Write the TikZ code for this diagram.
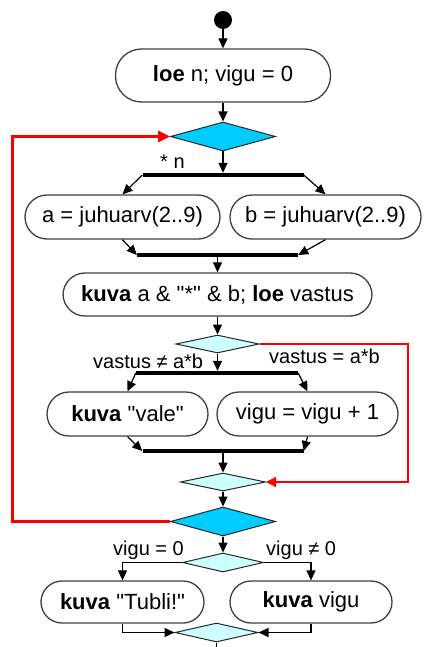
\documentclass[tikz,border=0pt]{standalone}
\usepackage{fontspec}
\setmainfont{Liberation Sans}[Ligatures=TeXOff]
\usetikzlibrary{arrows.meta,shapes.geometric}
\definecolor{decdark}{HTML}{00CCFF}
\definecolor{declight}{HTML}{CCFFFF}
\definecolor{boxline}{HTML}{404040}
\definecolor{loopred}{HTML}{FF0000}

\begin{document}
\begin{tikzpicture}[x=1pt,y=-1pt,
  stadium/.style={draw=boxline,line width=1.3pt,fill=white,rounded corners=22pt,
    minimum height=44pt,inner sep=0pt,font=\fontsize{22}{26}\selectfont},
  decision/.style={diamond,draw=black!85,line width=1pt,inner sep=0pt},
  bigdec/.style={decision,fill=decdark,minimum width=105pt,minimum height=29pt},
  smalldec/.style={decision,fill=declight,minimum width=83pt,minimum height=18pt},
  barnode/.style={fill=black,inner sep=0pt,minimum height=4pt},
  flow/.style={line width=1.2pt,-{Triangle[length=10pt,width=9pt]}},
  plain/.style={line width=1.2pt},
  redthick/.style={draw=loopred,line width=3pt,-{Triangle[length=12pt,width=11pt]}},
  redthin/.style={draw=loopred,line width=1.3pt,-{Triangle[length=10pt,width=10pt]}},
  lbl/.style={inner sep=0pt,anchor=base west,font=\fontsize{20}{24}\selectfont}
]
\useasboundingbox (0,0) rectangle (425,647);

% start point and initialisation
\node[circle,fill=black,minimum size=18pt,inner sep=0pt] (start) at (223,20) {};
\node[stadium,minimum width=215pt,minimum height=53pt,rounded corners=26pt] (init) at (223,75.5) {\textbf{loe} n; vigu = 0};

% loop head
\node[bigdec] (loophead) at (223,136.5) {};
\node[lbl] (times) at (160,168) {* n};

% parallel generation of the factors
\node[barnode,minimum width=161pt] (fork1) at (223,175) {};
\node[stadium,minimum width=195pt] (gena) at (122.5,217) {a = juhuarv(2..9)};
\node[stadium,minimum width=191pt] (genb) at (325.5,217) {b = juhuarv(2..9)};
\node[barnode,minimum width=161pt] (join1) at (217.5,255) {};

% question and answer
\node[stadium,minimum width=309pt,minimum height=43pt] (ask) at (217.5,294.5)
  {\textbf{kuva} a \& "*" \& b; \textbf{loe} vastus};
\node[smalldec] (check) at (217.5,344) {};
\node[lbl] (wrong) at (93,368) {vastus ≠ a*b};
\node[lbl] (right) at (269,363) {vastus = a*b};

% wrong answer branch
\node[barnode,minimum width=162pt] (fork2) at (217,373) {};
\node[stadium,minimum width=161pt] (vale) at (127.5,414) {\textbf{kuva} "vale"};
\node[stadium,minimum width=181pt] (count) at (307.5,414) {vigu = vigu + 1};
\node[barnode,minimum width=161pt] (join2) at (223,451) {};
\node[smalldec,minimum width=85pt] (merge1) at (223,482) {};

% loop end
\node[bigdec] (loopend) at (223,521.5) {};

% result
\node[smalldec,minimum width=81pt,minimum height=19pt] (result) at (223,562.5) {};
\node[lbl] (zero) at (113,555) {vigu = 0};
\node[lbl] (nonzero) at (266,555) {vigu ≠ 0};
\node[stadium,minimum width=163pt,minimum height=42pt,rounded corners=21pt] (tubli) at (122.5,602) {\textbf{kuva} "Tubli!"};
\node[stadium,minimum width=162pt,minimum height=42pt,rounded corners=21pt] (showerr) at (311,602) {\textbf{kuva} vigu};
\node[smalldec,minimum height=19pt] (merge2) at (216.5,632.5) {};
\coordinate (exit) at (216.5,647);

% main flow
\draw[flow] (start) -- (init);
\draw[flow] (init) -- (loophead);
\draw[flow] (loophead.south) -- (loophead.south |- fork1.north);
\draw[flow] (fork1.west) -- (gena.north);
\draw[flow] (fork1.east) -- (genb.north);
\draw[flow] (gena.south) -- (join1.west);
\draw[flow] (genb.south) -- (join1.east);
\draw[flow] (join1.south) -- (ask.north);
\draw[flow] (ask.south) -- (check.north);
\draw[flow] (check.south) -- (check.south |- fork2.north);
\draw[flow] (fork2.west) -- (vale.north);
\draw[flow] (fork2.east) -- (count.north);
\draw[flow] (vale.south) -- (join2.west);
\draw[flow] (count.south) -- (join2.east);
\draw[flow] (join2.south) -- (merge1.north);
\draw[flow] (merge1.south) -- (loopend.north);
\draw[flow] (loopend.south) -- (result.north);
\draw[flow] (result.west) -| (tubli.north);
\draw[flow] (result.east) -| (showerr.north);
\draw[flow] (tubli.south) |- (merge2.west);
\draw[flow] (showerr.south) |- (merge2.east);
\draw[plain] (merge2.south) -- (exit);

% bypass for a correct answer
\draw[redthin] (check.east) -- (408,344) -- (408,482) -- (merge1.east);

% loop back
\draw[redthick] (loopend.west) -- (12,521.5) -- (12,136.5) -- (loophead.west);
\end{tikzpicture}
\end{document}
